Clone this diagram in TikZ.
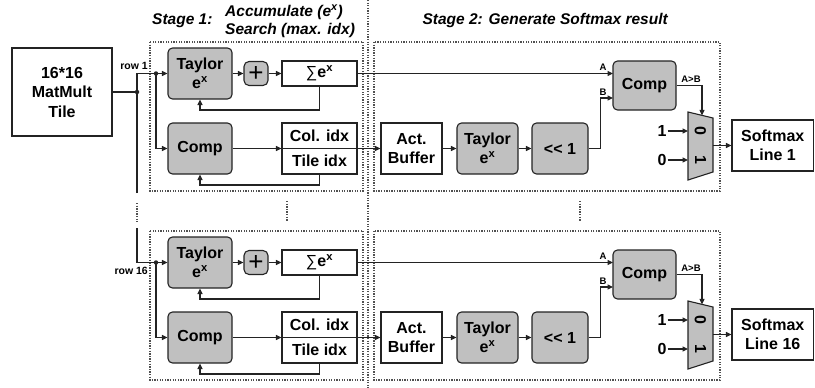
\documentclass[tikz,border=0pt]{standalone}
\usepackage{fontspec}
\setmainfont{Liberation Sans}
\usetikzlibrary{arrows.meta,calc}
\definecolor{blockgray}{RGB}{192,192,192}
\definecolor{edge}{RGB}{35,35,35}
\definecolor{dotgray}{RGB}{80,80,80}
\tikzset{
  unit/.style={draw=edge, line width=1.1pt, align=center, inner sep=0pt,
    font=\bfseries\fontsize{16}{19.5}\selectfont},
  gblock/.style={unit, fill=blockgray, rounded corners=4.5pt},
  wblock/.style={unit, fill=white},
  wire/.style={line width=1.1pt, draw=edge},
  arw/.style={wire, -{Triangle[length=5.5pt,width=5pt]}},
  dotwire/.style={line width=1.4pt, draw=dotgray, dash pattern=on 1.3pt off 1.3pt},
  junction/.style={circle, fill=edge, inner sep=0pt, minimum size=4.5pt},
  tag/.style={font=\bfseries\fontsize{9.5}{11}\selectfont, inner sep=0pt},
  bigtxt/.style={font=\bfseries\fontsize{16}{19}\selectfont, inner sep=1pt},
  head/.style={font=\bfseries\itshape\fontsize{15.5}{18}\selectfont, inner sep=0pt}
}
\begin{document}
\begin{tikzpicture}[x=1pt,y=-1pt]
\useasboundingbox (0,0) rectangle (815,388);

% separator between the two stages
\draw[dotwire] (368,0) -- (368,388);

% stage headings
\node[head, anchor=west] (h1) at (152,21) {Stage 1:};
\node[head, anchor=west] (h1a) at (225,12) {Accumulate (e\textsuperscript{x})};
\node[head, anchor=west] (h1b) at (225,30) {Search (max. idx)};
\node[head, anchor=east] (h2) at (668,20) {Stage 2: Generate Softmax result};

% source tile
\node[wblock, minimum width=100pt, minimum height=88pt] (mm) at (62,92) {16*16\\MatMult\\Tile};

\foreach \r/\oy in {1/0,16/189}{
  \begin{scope}[shift={(0,\oy)}]
    % stage frames
    \draw[dotwire] (150,42) rectangle (363,191);
    \draw[dotwire] (374,42) rectangle (720,191);

    % stage 1 blocks
    \node[gblock, minimum width=64pt, minimum height=51pt] (tay\r) at (200,73.5) {Taylor\\e\textsuperscript{x}};
    \node[gblock, minimum width=24pt, minimum height=24pt, rounded corners=5pt,
          font=\mdseries\fontsize{26}{26}\selectfont] (add\r) at (256,73.5) {+};
    \node[wblock, minimum width=75pt, minimum height=25pt] (sum\r) at (319.5,73.5) {{\mdseries ∑}e\textsuperscript{x}};
    \node[gblock, minimum width=64pt, minimum height=51pt] (cmp\r) at (200,148.5) {Comp};
    \node[wblock, minimum width=75pt, minimum height=51pt] (idx\r) at (319.5,148.5) {};
    \node[bigtxt] (col\r) at (319.5,136) {Col. idx};
    \node[bigtxt] (tile\r) at (319.5,161) {Tile idx};

    % stage 2 blocks
    \node[wblock, minimum width=61pt, minimum height=51pt] (buf\r) at (411.5,148.5) {Act.\\Buffer};
    \node[gblock, minimum width=61pt, minimum height=51pt] (exp\r) at (487.5,148.5) {Taylor\\e\textsuperscript{x}};
    \node[gblock, minimum width=56pt, minimum height=51pt] (shl\r) at (560,148.5) {<{}< 1};
    \node[gblock, minimum width=63pt, minimum height=49pt] (cmpb\r) at (644.5,85.5) {Comp};
    \draw[wire, fill=blockgray] (688,112) -- (713,118) -- (713,172) -- (688,180) -- cycle;
    \node[bigtxt, rotate=-90] (mz\r) at (700.5,131) {0};
    \node[bigtxt, rotate=-90] (mo\r) at (700.5,160) {1};
    \node[wblock, minimum width=81.5pt, minimum height=51pt] (out\r) at (772.75,145.5) {Softmax\\Line \r};

    % ports
    \coordinate (split\r) at (156,73.5);
    \coordinate (fbA\r) at (200,110);
    \coordinate (fbB\r) at (200,185);
    \coordinate (ina\r) at (613,73.5);
    \coordinate (inb\r) at (613,98);
    \coordinate (sel\r) at (702,115.4);
    \coordinate (pz\r) at (688,131);
    \coordinate (po\r) at (688,160);
    \coordinate (muxout\r) at (713,145.5);

    % stage 1 wiring
    \draw[arw] (tay\r) -- (add\r);
    \draw[arw] (add\r) -- (sum\r);
    \draw[arw] (sum\r.south) |- (fbA\r) -- (tay\r.south);
    \draw[arw] (split\r) |- (cmp\r.west);
    \draw[arw] (idx\r.south) |- (fbB\r) -- (cmp\r.south);
    \draw[arw] (cmp\r.east) -- (idx\r.west);
    \node[junction] at (split\r) {};

    % stage 2 wiring
    \draw[arw] (idx\r.west) -- (buf\r.west);
    \draw[arw] (buf\r) -- (exp\r);
    \draw[arw] (exp\r) -- (shl\r);
    \draw[arw] (sum\r.east) -- (ina\r);
    \draw[arw] (shl\r.east) -- ++(12,0) |- (inb\r);
    \draw[arw] (cmpb\r.east) -| (sel\r);
    \node[tag] (la\r) at (603,67) {A};
    \node[tag] (lb\r) at (603,92) {B};
    \node[tag] (lab\r) at (691,79.5) {A>B};
    \node[bigtxt] (one\r) at (662,131) {1};
    \node[bigtxt] (zero\r) at (662,160) {0};
    \draw[arw] (one\r) -- (pz\r);
    \draw[arw] (zero\r) -- (po\r);
    \draw[arw] (muxout\r) -- (out\r.west);

    % row label
    \node[tag, anchor=east, font=\bfseries\fontsize{10.5}{12}\selectfont] (row\r) at (148,\ifnum\r=1 66\else 82\fi) {row \r};
  \end{scope}
}

% fan-out of the tile rows
\coordinate (jn) at (137,92);
\coordinate (v1) at (137,73.5);
\coordinate (v2) at (137,193);
\coordinate (v3) at (137,228);
\coordinate (v4) at (137,262.5);
\draw[wire] (mm.east) -- (jn);
\draw[arw] (v2) -- (v1) -- (tay1.west);
\draw[arw] (v3) -- (v4) -- (tay16.west);
\draw[dotwire] (137,203) -- (137,222);
\node[junction] at (jn) {};

% rows in between
\draw[dotwire] (287,201) -- (287,221);
\draw[dotwire] (580,201) -- (580,221);
\end{tikzpicture}
\end{document}
